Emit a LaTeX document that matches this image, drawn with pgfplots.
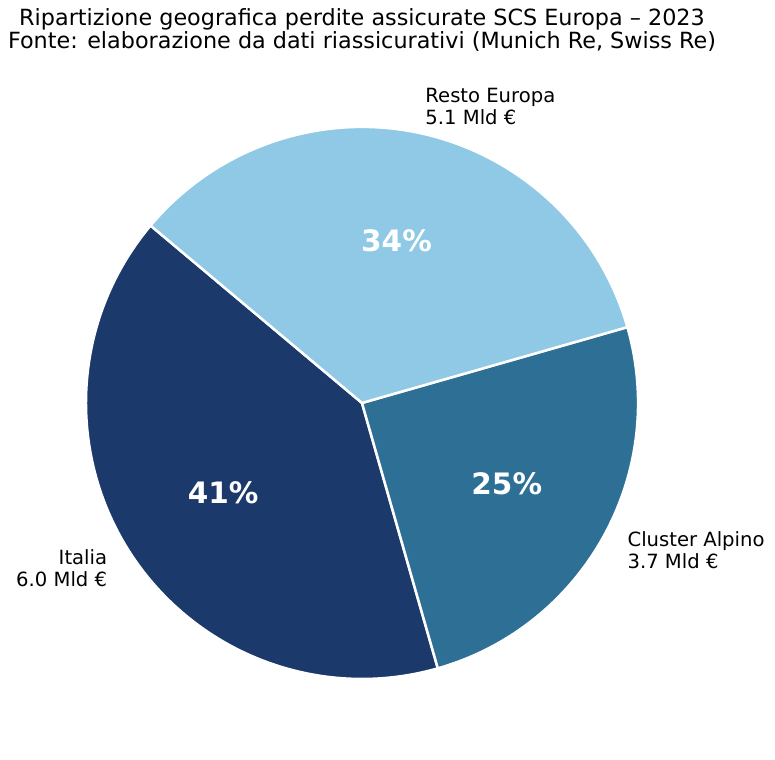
\documentclass[border=0pt]{standalone}
\usepackage{fontspec}
\setmainfont{DejaVu Sans}
\usepackage{pgfplots}
\usepackage{pgfplotstable}
\pgfplotsset{compat=1.18}

\definecolor{italia}{HTML}{1B3A6B}
\definecolor{alpino}{HTML}{2E6F96}
\definecolor{resto}{HTML}{8FC9E5}

% insured losses, bn EUR (wedges counter-clockwise from 140 deg)
\pgfplotstableread[col sep=comma]{
label,value,colour
Italia,6.0,italia
Cluster Alpino,3.7,alpino
Resto Europa,5.1,resto
}\piedata

\begin{document}
\begin{tikzpicture}
\begin{axis}[
    x=276pt, y=276pt,
    xmin=-1.3116, xmax=1.4964,
    ymin=-1.2935, ymax=1.4601,
    hide axis,
    clip=false,
]
\path (rel axis cs:0,0) rectangle (rel axis cs:1,1);

% total of the series
\def\total{0}
\pgfplotsinvokeforeach{0,1,2}{
  \pgfplotstablegetelem{#1}{value}\of\piedata
  \pgfmathparse{\total+\pgfplotsretval}\xdef\total{\pgfmathresult}
}

\def\cum{0}
\pgfplotsinvokeforeach{0,1,2}{
  \pgfplotstablegetelem{#1}{value}\of\piedata \let\pv\pgfplotsretval
  \pgfplotstablegetelem{#1}{label}\of\piedata \let\plab\pgfplotsretval
  \pgfplotstablegetelem{#1}{colour}\of\piedata \let\pcol\pgfplotsretval
  \pgfmathsetmacro\pa{140+360*\cum/\total}
  \pgfmathsetmacro\pb{140+360*(\cum+\pv)/\total}
  \pgfmathsetmacro\pmid{(\pa+\pb)/2}
  \pgfmathtruncatemacro\ppct{round(100*\pv/\total)}
  \pgfmathsetmacro\lx{1.1*cos(\pmid)}
  \pgfmathsetmacro\ly{1.1*sin(\pmid)}
  \pgfmathsetmacro\qx{0.6*cos(\pmid)}
  \pgfmathsetmacro\qy{0.6*sin(\pmid)}
  \ifdim\lx pt>0pt \def\lanchor{west}\def\lalign{left}\else\def\lanchor{east}\def\lalign{right}\fi
  \edef\temp{
    \noexpand\fill[\pcol, draw=white, line width=2.5pt, line join=round]
      (axis cs:0,0) -- (axis cs:{cos(\pa)},{sin(\pa)})
      arc[start angle=\pa, end angle=\pb, radius=276pt] -- cycle;
    \noexpand\node[white, font=\noexpand\bfseries\noexpand\fontsize{29.5}{34}\noexpand\selectfont]
      at (axis cs:\qx,\qy) {\ppct\noexpand\%};
    \noexpand\node[anchor=\lanchor, align=\lalign, inner sep=0pt,
      font=\noexpand\fontsize{19.6}{22}\noexpand\selectfont]
      at (axis cs:\lx,\ly) {\plab\noexpand\\\pv\space Mld €};
  }
  \temp
  \pgfmathparse{\cum+\pv}\xdef\cum{\pgfmathresult}
}

\node[anchor=base, font=\fontsize{22.3}{26}\selectfont] at (axis cs:0,1.3659)
  {Ripartizione geografica perdite assicurate SCS Europa – 2023};
\node[anchor=base, font=\fontsize{22.3}{26}\selectfont] at (axis cs:0,1.2826)
  {Fonte: elaborazione da dati riassicurativi (Munich Re, Swiss Re)};
\end{axis}
\end{tikzpicture}
\end{document}
